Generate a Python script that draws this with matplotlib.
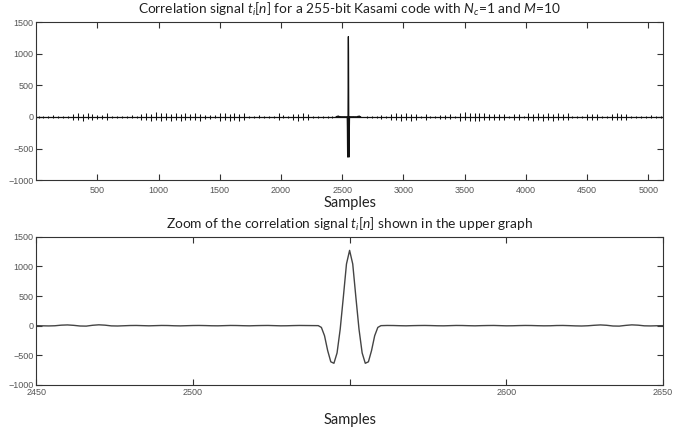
import numpy as np
import matplotlib.pyplot as plt

plt.rcParams['mathtext.fontset'] = 'custom'
plt.rcParams['mathtext.rm'] = 'Lato'
plt.rcParams['mathtext.it'] = 'Lato:italic'

# background noise of the correlation, read per 40-sample bin (upper / lower spike)
bin_width = 40
noise_hi = [18, 22, 15, 25, 20, 18, 22, 45, 60, 40, 55, 48, 30, 28, 55, 20,
            15, 22, 18, 25, 20, 50, 65, 45, 70, 55, 60, 48, 66, 52, 58, 50,
            62, 45, 30, 28, 32, 55, 65, 50, 60, 48, 58, 20, 15, 25, 18, 22,
            20, 55, 25, 22, 50, 45, 55, 50, 18, 15, 20, 16, 18, 0, 0, 0,
            0, 0, 0, 10, 12, 10, 35, 15, 50, 55, 45, 60, 48, 52, 20, 50,
            18, 22, 35, 30, 38, 20, 60, 70, 55, 65, 58, 62, 45, 48, 42, 50,
            20, 45, 40, 20, 55, 48, 62, 50, 65, 45, 58, 52, 60, 20, 18, 22,
            50, 45, 52, 20, 18, 50, 55, 48, 52, 22, 15, 20, 18, 25, 15, 18]
noise_lo = [-20, -15, -22, -18, -25, -15, -20, -50, -45, -62, -40, -55, -28, -32, -50, -18,
            -22, -15, -20, -18, -25, -55, -48, -68, -50, -62, -45, -66, -52, -60, -48, -55,
            -45, -58, -28, -32, -25, -60, -48, -62, -45, -58, -50, -18, -22, -15, -20, -25,
            -18, -50, -22, -25, -55, -60, -45, -52, -15, -18, -16, -20, -15, 0, 0, 0,
            0, 0, 0, -12, -10, -12, -30, -18, -55, -45, -60, -50, -58, -45, -18, -55,
            -22, -18, -30, -38, -32, -22, -65, -55, -70, -58, -62, -55, -50, -42, -48, -45,
            -18, -50, -45, -22, -50, -62, -48, -58, -52, -60, -48, -55, -50, -22, -20, -18,
            -45, -55, -48, -22, -20, -55, -48, -52, -45, -18, -20, -15, -22, -18, -20, -15]

# correlation around the main peak (samples 2450..2650)
zoom_n = [2450, 2452, 2454, 2456, 2458, 2460, 2462, 2464, 2466, 2468, 2470, 2472, 2474,
          2476, 2478, 2480, 2482, 2484, 2486, 2488, 2490, 2492, 2494, 2496, 2498, 2500,
          2502, 2504, 2506, 2508, 2510, 2512, 2514, 2516, 2518, 2520, 2522, 2524, 2526,
          2528, 2530, 2532, 2534, 2536, 2538, 2540, 2541, 2542, 2543, 2544, 2545, 2546,
          2547, 2548, 2549, 2550, 2551, 2552, 2553, 2554, 2555, 2556, 2557, 2558, 2559,
          2560, 2562, 2564, 2566, 2568, 2570, 2572, 2574, 2576, 2578, 2580, 2582, 2584,
          2586, 2588, 2590, 2592, 2594, 2596, 2598, 2600, 2602, 2604, 2606, 2608, 2610,
          2612, 2614, 2616, 2618, 2620, 2622, 2624, 2626, 2628, 2630, 2632, 2634, 2636,
          2638, 2640, 2642, 2644, 2646, 2648, 2650]
zoom_t = [0, -3, -5, -2, 8, 12, 5, -6, -8, 6, 14, 8, -4,
          -6, -2, 2, 3, 0, -3, 0, 3, 2, -2, -4, -1, 2,
          3, 1, -2, -3, 0, 3, 2, -1, -3, 0, 2, 3, 0,
          -3, -2, 1, 3, 2, 1, 0, -30, -170, -420, -610, -635, -460,
          -60, 480, 1040, 1270, 1040, 480, -60, -460, -635, -610, -420, -170, -30,
          0, 3, 2, -1, -3, 0, 2, 3, 1, -2, -3, 0, 3,
          2, -1, -3, 0, 2, 3, 0, -3, -2, 1, 3, 2, -1,
          -3, -2, 2, 3, 0, -4, -6, -2, 6, 12, 6, -6, -8,
          4, 13, 8, -3, -5, -2, 0]

bin_centers = np.arange(len(noise_hi)) * bin_width + bin_width / 2

title_font = {'family': 'Lato', 'size': 9.9, 'color': '#222222'}
label_font = {'family': 'Lato', 'size': 10.5, 'color': '#222222'}

fig = plt.figure(figsize=(6.94, 4.32), dpi=100)
ax1 = fig.add_axes([0.052, 0.583, 0.9035, 0.366])
ax2 = fig.add_axes([0.052, 0.109, 0.9035, 0.343])

# upper graph: full correlation
ax1.hlines(0, 0, 5120, color='#111111', lw=0.9)
ax1.vlines(bin_centers, noise_lo, noise_hi, color='#111111', lw=0.75)
ax1.plot(zoom_n, zoom_t, color='#111111', lw=0.9)
ax1.set_xlim(0, 5120)
ax1.set_ylim(-1000, 1500)
ax1.set_xticks(np.arange(500, 5001, 500))
ax1.set_yticks(np.arange(-1000, 1501, 500))
ax1.set_title(r'Correlation signal $t_i$[$n$] for a 255-bit Kasami code with $N_c$=1 and $M$=10',
              fontdict=title_font, pad=6)
ax1.set_xlabel('Samples', fontdict=label_font, labelpad=1)

# lower graph: zoom around the peak
ax2.plot(zoom_n, zoom_t, color='#444444', lw=1.0)
ax2.set_xlim(2450, 2650)
ax2.set_ylim(-1000, 1500)
ax2.set_xticks([2450, 2500, 2550, 2600, 2650])
ax2.set_xticklabels(['2450', '2500', '', '2600', '2650'])
ax2.set_yticks(np.arange(-1000, 1501, 500))
ax2.set_title(r'Zoom of the correlation signal $t_i$[$n$] shown in the upper graph',
              fontdict=title_font, pad=6)
ax2.set_xlabel('Samples', fontdict=label_font, labelpad=12)

for ax in (ax1, ax2):
    ax.tick_params(direction='in', top=True, right=True, length=4, width=0.8,
                   labelsize=6.5, labelcolor='#555555', color='#333333')
    for lab in ax.get_xticklabels() + ax.get_yticklabels():
        lab.set_family('Liberation Sans')
    for s in ax.spines.values():
        s.set_color('#333333')
        s.set_linewidth(0.8)
ax1.tick_params(axis='x', pad=4)
ax2.tick_params(axis='x', pad=2)
ax1.tick_params(axis='y', pad=2)
ax2.tick_params(axis='y', pad=2)

fig.savefig('out.png', dpi=100)
